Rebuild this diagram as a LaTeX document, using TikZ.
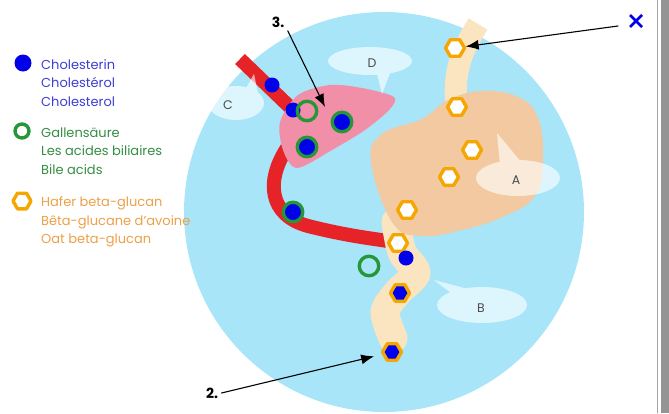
\documentclass[tikz,border=0pt]{standalone}
\usepackage{fontspec}
\setmainfont{Poppins}
\usetikzlibrary{arrows.meta,shapes.geometric}
\definecolor{bodyblue}{RGB}{168,229,249}
\definecolor{liverpink}{RGB}{241,143,168}
\definecolor{stomachpeach}{RGB}{242,201,160}
\definecolor{gutbeige}{RGB}{250,229,192}
\definecolor{ductred}{RGB}{230,36,40}
\definecolor{cholblue}{RGB}{0,0,235}
\definecolor{bilegreen}{RGB}{38,150,56}
\definecolor{oatorange}{RGB}{246,166,0}
\definecolor{choltext}{RGB}{62,62,212}
\definecolor{biletext}{RGB}{52,142,68}
\definecolor{oattext}{RGB}{236,160,72}
\tikzset{
  chol/.style={circle, fill=cholblue, inner sep=0pt, minimum size=15pt},
  bileacid/.style={circle, draw=bilegreen, line width=3.4pt, inner sep=0pt, minimum size=19.5pt},
  oat/.style={regular polygon, regular polygon sides=6, draw=oatorange, line width=3.4pt, fill=white, inner sep=0pt, minimum size=19pt},
  bubble/.style={transparency group, opacity=.62},
  bubbletext/.style={text=black!70, font=\fontsize{12.5}{12.5}\selectfont},
  legend/.style={anchor=base west, inner sep=0pt, font=\fontsize{13}{13}\selectfont},
  pointer/.style={-{Latex[length=13pt,width=10pt]}, line width=1.1pt},
  number/.style={font=\fontsize{14}{14}\selectfont\bfseries},
}
\begin{document}
\begin{tikzpicture}[x=1pt, y=-1pt, line join=round, line cap=round]
\useasboundingbox (0,0) rectangle (669,413);
% window edge and close button
\draw[black!35, line width=.8pt] (657.5,0) -- (657.5,413);
\fill[black!42] (661,0) rectangle (669,413);
\draw[cholblue, line width=2.6pt, line cap=butt] (630,15) -- (642,27) (642,15) -- (630,27);

% body
\fill[bodyblue] (384,212) circle (200);

% oesophagus, bile duct, intestine
\draw[gutbeige, line width=22pt, line cap=butt] (478,24) .. controls (462,50) and (452,72) .. (457,112);
\draw[ductred, line width=14pt, line cap=butt] (240,59) -- (295,112);
\draw[ductred, line width=14pt, line cap=butt] (287,148) .. controls (266,180) and (268,215) .. (308,226) .. controls (340,234) and (360,237) .. (388,241);
\draw[gutbeige, line width=29pt] plot[smooth] coordinates {(396,222) (402,252) (416,273) (398,292) (385,312) (393,338)};

% stomach and liver
\fill[stomachpeach] plot[smooth cycle, tension=.7] coordinates {(371,162) (382,134) (422,119) (448,100) (482,91) (518,97) (538,118) (543,160) (535,196) (505,216) (462,230) (420,236) (392,222)};
\fill[liverpink] plot[smooth cycle] coordinates {(280,122) (298,95) (330,85) (362,88) (394,97) (389,110) (365,130) (332,150) (297,168) (283,150)};

% speech bubbles
\begin{scope}[bubble]
  \fill[white] (518,178) ellipse [x radius=42, y radius=18];
  \fill[white] (500,165) -- (522,163) -- (497,133) -- cycle;
\end{scope}
\begin{scope}[bubble]
  \fill[white] (482,305) ellipse [x radius=45, y radius=18];
  \fill[white] (455,296) -- (472,290) -- (434,280) -- cycle;
\end{scope}
\begin{scope}[bubble]
  \fill[white] (236,103) ellipse [x radius=28, y radius=17];
  \fill[white] (245,90) -- (258,93) -- (254,74) -- cycle;
\end{scope}
\begin{scope}[bubble]
  \fill[white] (370,61) ellipse [x radius=42, y radius=14];
  \fill[white] (376,70) -- (392,68) -- (382,94) -- cycle;
\end{scope}
\node[bubbletext] (lblA) at (516,180) {A};
\node[bubbletext] (lblB) at (481,308) {B};
\node[bubbletext] (lblC) at (228,105) {C};
\node[bubbletext] (lblD) at (372,63) {D};

% cholesterol and bile acids
\node[chol] (c1) at (272,85) {};
\node[chol] (c2) at (293,110) {};
\node[bileacid] (b1) at (307,111) {};
\node[bileacid, fill=cholblue] (b2) at (342,122) {};
\node[bileacid, fill=cholblue] (b3) at (307,147) {};
\node[bileacid, fill=cholblue] (b4) at (293,212) {};
\node[bileacid] (b5) at (369,266) {};

% oat beta-glucan
\foreach \p [count=\i] in {(455,48),(457,107),(472,150),(449,177),(407,210),(398,243)}
  \node[oat] (oat\i) at \p {};
\node[chol] (c3) at (406,258) {};
\node[oat, fill=cholblue] (oat7) at (400,293) {};
\node[oat, fill=cholblue] (oat8) at (392,352) {};

% pointers
\coordinate (mouth) at (618,26);
\draw[pointer] (mouth) -- (oat1);
\node[number] (num3) at (278,22) {3.};
\coordinate (liverpoint) at (325,107);
\draw[pointer] (num3.south east) -- (liverpoint);
\node[number] (num2) at (212,393) {2.};
\draw[pointer, shorten >=8pt] (num2.east) -- (oat8);

% legend
\node[chol, minimum size=17pt] (keychol) at (23,63) {};
\node[bileacid, minimum size=14pt] (keybile) at (22,131) {};
\node[oat, minimum size=18pt] (keyoat) at (22,201) {};
\foreach \t [count=\i] in {Cholesterin,Cholestérol,Cholesterol}
  \node[legend, text=choltext] (choltxt\i) at (41,{50.7+18.5*\i}) {\t};
\foreach \t [count=\i] in {Gallensäure,Les acides biliaires,Bile acids}
  \node[legend, text=biletext] (biletxt\i) at (41,{118.5+18.5*\i}) {\t};
\foreach \t [count=\i] in {Hafer beta-glucan,Bêta-glucane d'avoine,Oat beta-glucan}
  \node[legend, text=oattext] (oattxt\i) at (41,{188+18.5*\i}) {\t};
\end{tikzpicture}
\end{document}
